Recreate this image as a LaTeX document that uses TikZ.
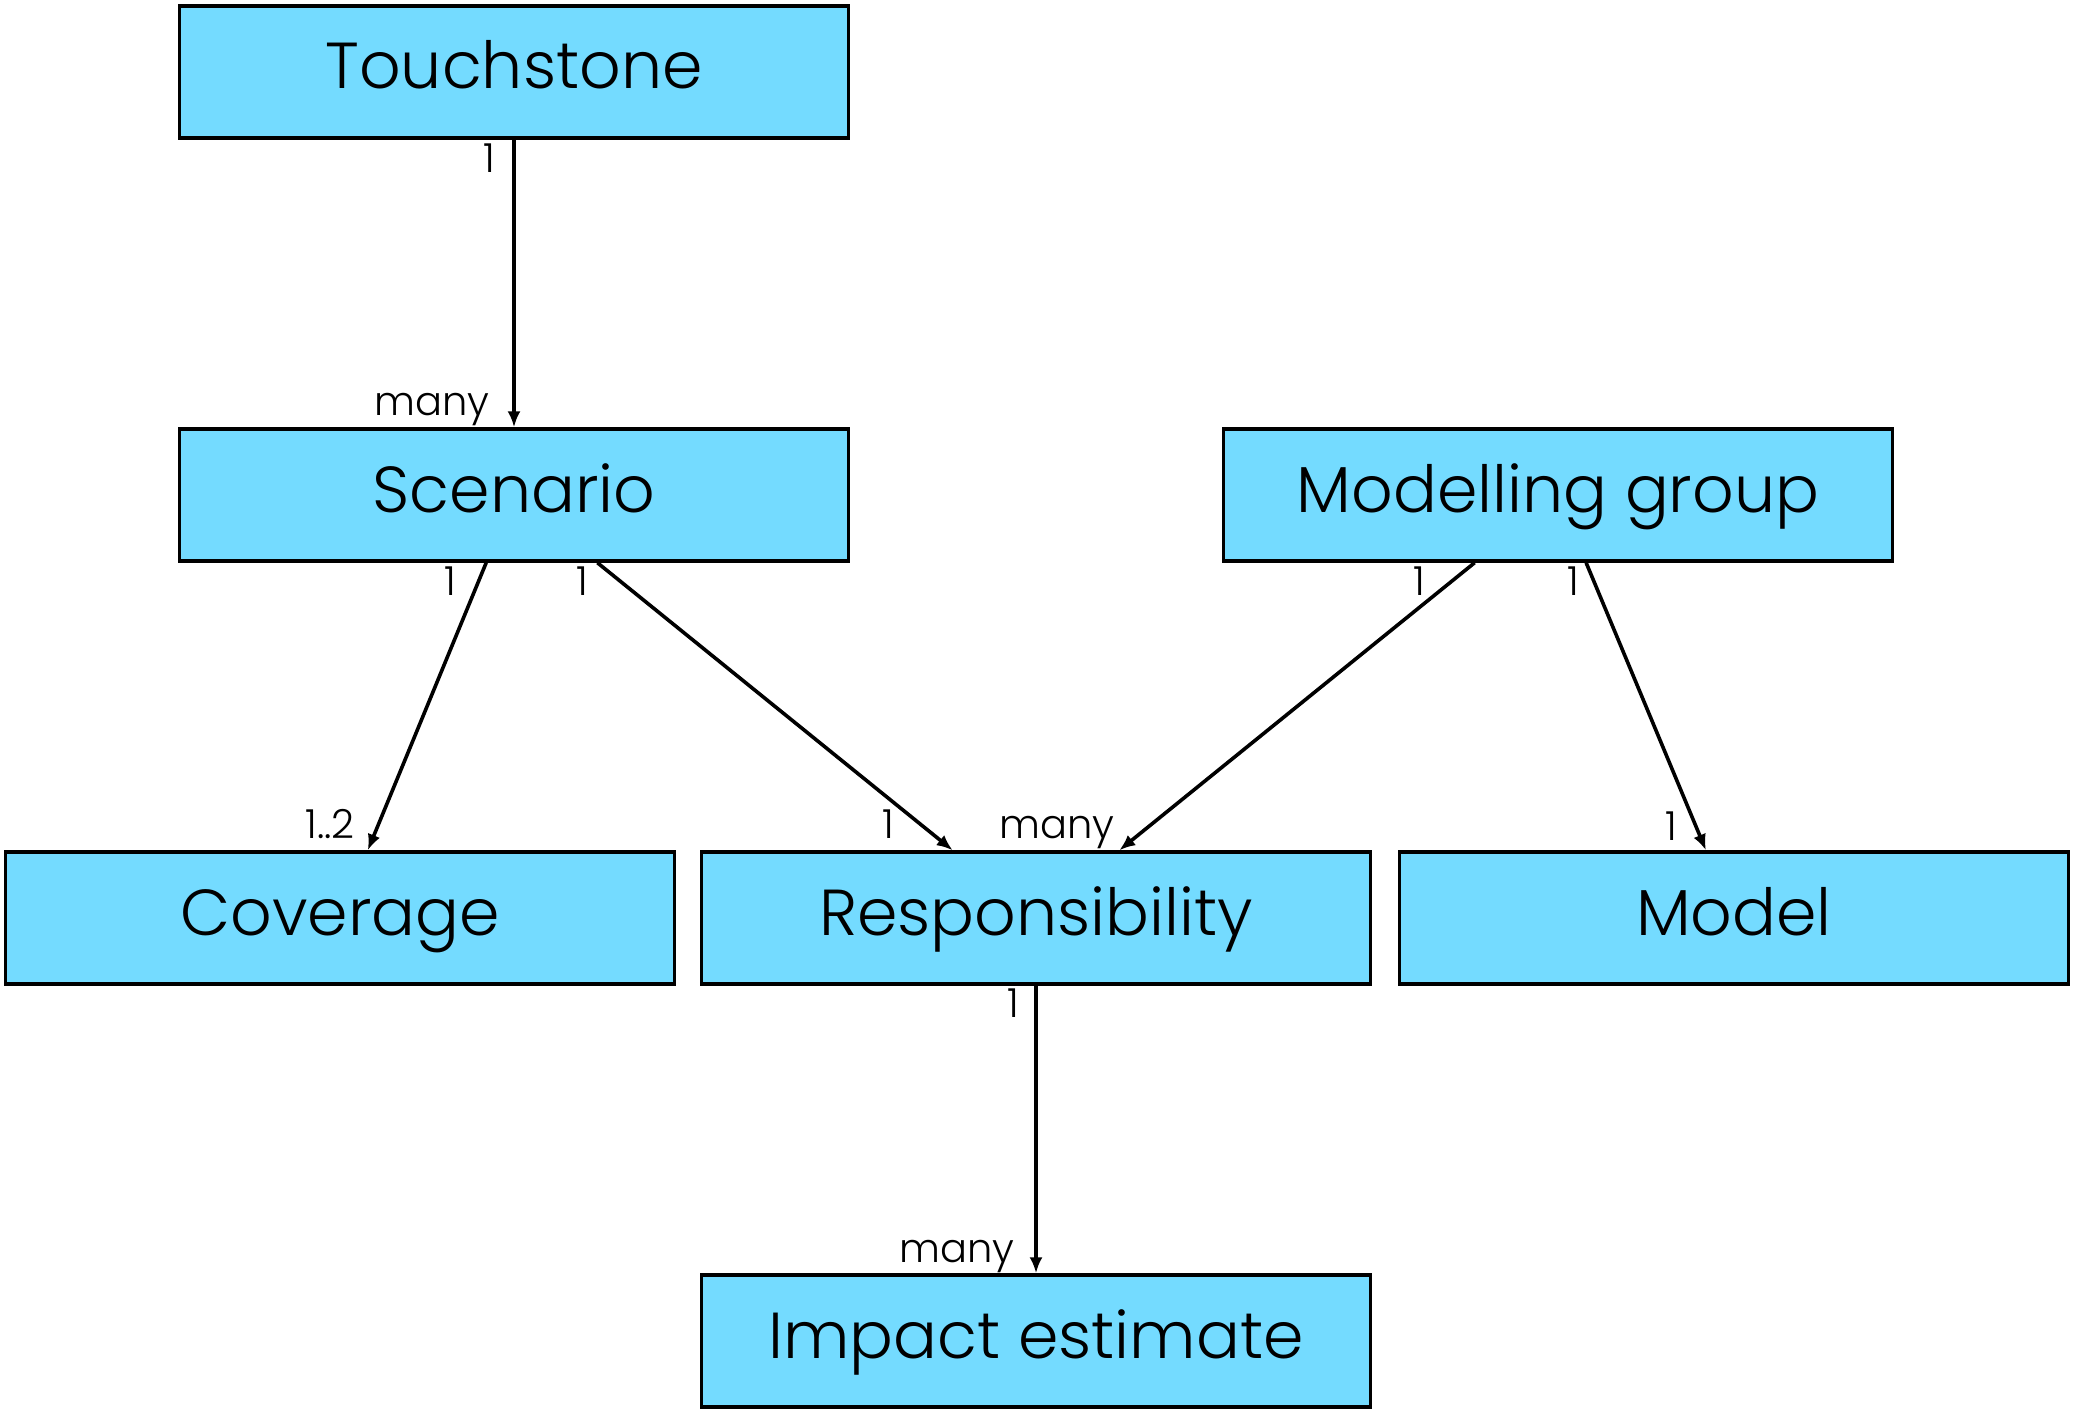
\documentclass[tikz,border=0pt]{standalone}
\usepackage{fontspec}
\setmainfont{Poppins}[UprightFont=* Light]
\usetikzlibrary{arrows.meta}
\definecolor{boxfill}{RGB}{116,219,255}
\begin{document}
\begin{tikzpicture}[x=0.5pt,y=-0.5pt,
  entity/.style={draw=black, fill=boxfill, line width=1.7pt,
    minimum width=334.5pt, minimum height=66pt, inner sep=0pt,
    font=\fontsize{32.5}{32.5}\selectfont, text height=25pt, text depth=8pt},
  rel/.style={line width=1.8pt, -{Latex[length=8pt,width=6.5pt]}},
  mult/.style={anchor=base east, inner sep=0pt, font=\fontsize{20}{20}\selectfont}]
\useasboundingbox (0,0) rectangle (2075,1413);
\node[entity] (touch) at (514,72) {Touchstone};
\node[entity] (scen) at (514,495) {Scenario};
\node[entity] (mg) at (1558,495) {Modelling group};
\node[entity] (cov) at (340,918) {Coverage};
\node[entity] (resp) at (1036,918) {Responsibility};
\node[entity] (model) at (1734,918) {Model};
\node[entity] (impact) at (1036,1341) {Impact estimate};

\draw[rel] (touch) -- (scen);
\draw[rel] (scen) -- (cov);
\draw[rel] (scen) -- (resp);
\draw[rel] (mg) -- (resp);
\draw[rel] (mg) -- (model);
\draw[rel] (resp) -- (impact);

\node[mult] (l1) at (496,172) {1};
\node[mult] (l2) at (490,415) {many};
\node[mult] (l3) at (457,595) {1};
\node[mult] (l4) at (355,838) {1..2};
\node[mult] (l5) at (589,595) {1};
\node[mult] (l6) at (895,838) {1};
\node[mult] (l7) at (1426,595) {1};
\node[mult] (l8) at (1115,838) {many};
\node[mult] (l9) at (1580,595) {1};
\node[mult] (l10) at (1678,840) {1};
\node[mult] (l11) at (1020,1017) {1};
\node[mult] (l12) at (1015,1262) {many};
\end{tikzpicture}
\end{document}
